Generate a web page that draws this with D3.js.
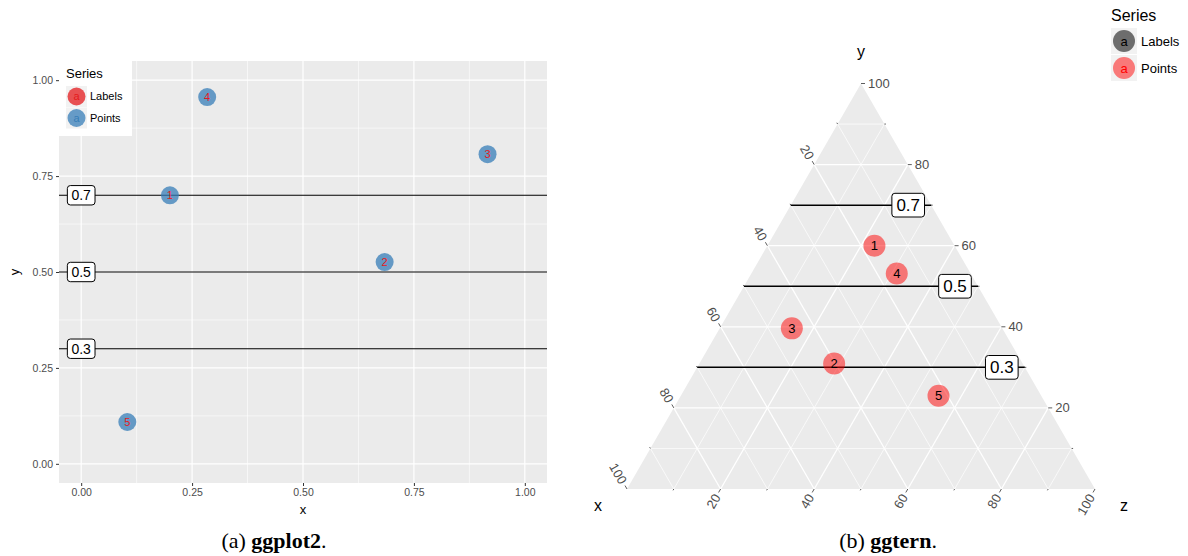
<!DOCTYPE html>
<html>
<head>
<meta charset="utf-8">
<script src="https://cdn.jsdelivr.net/npm/d3@7"></script>
<style>
  body { margin: 0; background: #fff; }
  text { font-family: "Liberation Sans", Arial, sans-serif; }
  .cap { font-family: "Liberation Serif", "DejaVu Serif", serif; }
</style>
</head>
<body>
<div id="chart"></div>
<script>
// data (same five observations in both panels)
var ids = ["1", "2", "3", "4", "5"];
var xs = [0.2, 0.684, 0.916, 0.284, 0.104];
var ys = [0.7, 0.526, 0.807, 0.956, 0.109];
var zs = [0.267, 0.489, 0.314, 0.559, 0.261];
var hlines = [0.7, 0.5, 0.3];
var cartTicks = [0, 0.25, 0.5, 0.75, 1];
var cartMinor = [0.125, 0.375, 0.625, 0.875];
var ternMajor = [0.2, 0.4, 0.6, 0.8, 1];
var ternGrid = [0.1, 0.2, 0.3, 0.4, 0.5, 0.6, 0.7, 0.8, 0.9];
var ternMinor = [0.1, 0.3, 0.5, 0.7, 0.9];
var seriesNames = ["Labels", "Points"];

var W = 1188, H = 556;
var svg = d3.select("#chart").append("svg")
    .attr("width", W)
    .attr("height", H);

var data = ids.map(function (d, i) {
    var s = xs[i] + ys[i] + zs[i];
    return {id: d, x: xs[i], y: ys[i], z: zs[i], tx: xs[i] / s, ty: ys[i] / s, tz: zs[i] / s};
});

// ---------- panel (a): ggplot2 ----------
var x = d3.scaleLinear().domain([-0.05, 1.05]).range([59, 547]);
var y = d3.scaleLinear().domain([-0.05, 1.05]).range([483, 61]);

var pa = svg.append("g");
pa.append("rect")
    .attr("x", x.range()[0]).attr("y", y.range()[1])
    .attr("width", x.range()[1] - x.range()[0])
    .attr("height", y.range()[0] - y.range()[1])
    .attr("fill", "#ebebeb");

// grid
pa.selectAll(".vminor").data(cartMinor).enter().append("line")
    .attr("x1", d => x(d)).attr("x2", d => x(d))
    .attr("y1", y.range()[1]).attr("y2", y.range()[0])
    .attr("stroke", "#fff").attr("stroke-width", 0.6);
pa.selectAll(".hminor").data(cartMinor).enter().append("line")
    .attr("y1", d => y(d)).attr("y2", d => y(d))
    .attr("x1", x.range()[0]).attr("x2", x.range()[1])
    .attr("stroke", "#fff").attr("stroke-width", 0.6);
pa.selectAll(".vmajor").data(cartTicks).enter().append("line")
    .attr("x1", d => x(d)).attr("x2", d => x(d))
    .attr("y1", y.range()[1]).attr("y2", y.range()[0])
    .attr("stroke", "#fff").attr("stroke-width", 1.2);
pa.selectAll(".hmajor").data(cartTicks).enter().append("line")
    .attr("y1", d => y(d)).attr("y2", d => y(d))
    .attr("x1", x.range()[0]).attr("x2", x.range()[1])
    .attr("stroke", "#fff").attr("stroke-width", 1.2);

// axes
var xAxis = d3.axisBottom(x).tickValues(cartTicks).tickFormat(d3.format(".2f")).tickSize(3).tickPadding(3);
var yAxis = d3.axisLeft(y).tickValues(cartTicks).tickFormat(d3.format(".2f")).tickSize(3).tickPadding(3);
pa.append("g").attr("transform", "translate(0," + y.range()[0] + ")").call(xAxis);
pa.append("g").attr("transform", "translate(" + x.range()[0] + ",0)").call(yAxis);
pa.selectAll(".domain").remove();
pa.selectAll(".tick line").attr("stroke", "#333");
pa.selectAll(".tick text").attr("fill", "#4d4d4d").style("font-size", "10.5px")
    .style("font-family", "Liberation Sans, Arial, sans-serif");

pa.append("text").attr("x", (x.range()[0] + x.range()[1]) / 2).attr("y", 514)
    .attr("text-anchor", "middle").style("font-size", "13px").text("x");
pa.append("text").attr("transform", "translate(19,272) rotate(-90)")
    .attr("text-anchor", "middle").style("font-size", "13px").text("y");

// horizontal lines
pa.selectAll(".hl").data(hlines).enter().append("line")
    .attr("x1", x.range()[0]).attr("x2", x.range()[1])
    .attr("y1", d => y(d)).attr("y2", d => y(d))
    .attr("stroke", "#000").attr("stroke-width", 1.1);

function boxLabel(g, cx, cy, txt, fs, padX, padY) {
    var grp = g.append("g");
    var t = grp.append("text").attr("x", cx).attr("y", cy).attr("dy", "0.35em")
        .attr("text-anchor", "middle").style("font-size", fs + "px").text(txt);
    var b = t.node().getBBox();
    grp.insert("rect", "text")
        .attr("x", cx - b.width / 2 - padX).attr("y", cy - fs * 0.55 - padY)
        .attr("width", b.width + 2 * padX).attr("height", fs * 1.1 + 2 * padY)
        .attr("rx", 3).attr("fill", "#fff").attr("stroke", "#000").attr("stroke-width", 1);
    return grp;
}
hlines.forEach(function (v) { boxLabel(pa, x(0), y(v), String(v), 14, 4, 2); });

// points
pa.selectAll(".pt").data(data).enter().append("circle")
    .attr("cx", d => x(d.x)).attr("cy", d => y(d.y)).attr("r", 9)
    .attr("fill", "#377eb8").attr("fill-opacity", 0.75);
pa.selectAll(".lb").data(data).enter().append("text")
    .attr("x", d => x(d.x)).attr("y", d => y(d.y)).attr("dy", "0.36em")
    .attr("text-anchor", "middle").attr("fill", "#e41a1c").style("font-size", "11px")
    .text(d => d.id);

// legend (a)
var la = pa.append("g");
la.append("rect").attr("x", 59).attr("y", 61).attr("width", 73).attr("height", 75).attr("fill", "#fff");
la.append("text").attr("x", 66).attr("y", 78).style("font-size", "13px").text("Series");
var keyA = [["#e41a1c", "#e41a1c"], ["#377eb8", "#377eb8"]];
seriesNames.forEach(function (s, i) {
    var ky = 86 + i * 21.5;
    la.append("rect").attr("x", 66).attr("y", ky).attr("width", 21).attr("height", 21).attr("fill", "#f2f2f2");
    la.append("circle").attr("cx", 76.5).attr("cy", ky + 10.5).attr("r", 9)
        .attr("fill", keyA[i][0]).attr("fill-opacity", 0.75);
    la.append("text").attr("x", 76.5).attr("y", ky + 10.5).attr("dy", "0.35em")
        .attr("text-anchor", "middle").attr("fill", keyA[i][1]).style("font-size", "11px").text("a");
    la.append("text").attr("x", 90).attr("y", ky + 10.5).attr("dy", "0.35em")
        .style("font-size", "11px").text(s);
});

// ---------- panel (b): ggtern ----------
var ty = d3.scaleLinear().domain([0, 1]).range([489, 83.5]);
var tx = d3.scaleLinear().domain([0, 1]).range([627, 1095]);
function proj(a, b, c) { return [tx(c + b / 2), ty(b)]; } // a=x, b=y, c=z

var pb = svg.append("g");
var tri = [proj(1, 0, 0), proj(0, 1, 0), proj(0, 0, 1)];
pb.append("path").attr("d", "M" + tri.join("L") + "Z").attr("fill", "#ebebeb");

var gridLines = [];
ternGrid.forEach(function (v) {
    var major = Math.abs(v * 10 % 2) < 1e-6 || Math.abs(v * 10 % 2 - 2) < 1e-6;
    gridLines.push({a: proj(1 - v, v, 0), b: proj(0, v, 1 - v), major: major});
    gridLines.push({a: proj(v, 1 - v, 0), b: proj(v, 0, 1 - v), major: major});
    gridLines.push({a: proj(1 - v, 0, v), b: proj(0, 1 - v, v), major: major});
});
pb.selectAll(".tg").data(gridLines).enter().append("line")
    .attr("x1", d => d.a[0]).attr("y1", d => d.a[1])
    .attr("x2", d => d.b[0]).attr("y2", d => d.b[1])
    .attr("stroke", "#fff").attr("stroke-width", d => d.major ? 1.3 : 0.7);

// ticks and labels
var fmt = d3.format("d");
function ternTick(p, dir, len) {
    pb.append("line").attr("x1", p[0]).attr("y1", p[1])
        .attr("x2", p[0] + dir[0] * len).attr("y2", p[1] + dir[1] * len)
        .attr("stroke", "#333").attr("stroke-width", 0.8);
}
var dirY = [1, 0], dirX = [-0.5, -0.866], dirZ = [-0.5, 0.866];
ternMinor.forEach(function (v) {
    ternTick(proj(0, v, 1 - v), dirY, 1.5);
    ternTick(proj(v, 1 - v, 0), dirX, 1.5);
    ternTick(proj(1 - v, 0, v), dirZ, 1.5);
});
ternMajor.forEach(function (v) {
    var p = proj(0, v, 1 - v);
    ternTick(p, dirY, 4);
    pb.append("text").attr("x", p[0] + 7).attr("y", p[1]).attr("dy", "0.35em")
        .attr("fill", "#4d4d4d").style("font-size", "13px").text(fmt(v * 100));
    var q = proj(v, 1 - v, 0);
    ternTick(q, dirX, 4);
    pb.append("text")
        .attr("transform", "translate(" + (q[0] + dirX[0] * 7) + "," + (q[1] + dirX[1] * 7) + ") rotate(60)")
        .attr("dy", "0.35em").attr("text-anchor", "end")
        .attr("fill", "#4d4d4d").style("font-size", "13px").text(fmt(v * 100));
    var r = proj(1 - v, 0, v);
    ternTick(r, dirZ, 4);
    pb.append("text")
        .attr("transform", "translate(" + (r[0] + dirZ[0] * 7) + "," + (r[1] + dirZ[1] * 7) + ") rotate(-60)")
        .attr("dy", "0.35em").attr("text-anchor", "end")
        .attr("fill", "#4d4d4d").style("font-size", "13px").text(fmt(v * 100));
});

pb.append("text").attr("x", tri[1][0]).attr("y", 57).attr("text-anchor", "middle")
    .style("font-size", "16px").text("y");
pb.append("text").attr("x", 598).attr("y", 511).attr("text-anchor", "middle")
    .style("font-size", "16px").text("x");
pb.append("text").attr("x", 1124).attr("y", 511).attr("text-anchor", "middle")
    .style("font-size", "16px").text("z");

// horizontal lines at constant y
pb.selectAll(".thl").data(hlines).enter().append("line")
    .attr("x1", d => proj(1 - d, d, 0)[0]).attr("x2", d => proj(0, d, 1 - d)[0])
    .attr("y1", d => ty(d)).attr("y2", d => ty(d))
    .attr("stroke", "#000").attr("stroke-width", 1.5);
hlines.forEach(function (v) {
    var e = proj(0, v, 1 - v);
    boxLabel(pb, e[0] - 23, e[1], String(v), 17, 4.5, 2.5);
});

// points
pb.selectAll(".tp").data(data).enter().append("circle")
    .attr("cx", d => proj(d.tx, d.ty, d.tz)[0]).attr("cy", d => proj(d.tx, d.ty, d.tz)[1])
    .attr("r", 11).attr("fill", "#ff0000").attr("fill-opacity", 0.5);
pb.selectAll(".tl").data(data).enter().append("text")
    .attr("x", d => proj(d.tx, d.ty, d.tz)[0]).attr("y", d => proj(d.tx, d.ty, d.tz)[1])
    .attr("dy", "0.36em").attr("text-anchor", "middle").style("font-size", "13px")
    .text(d => d.id);

// legend (b)
var lb = svg.append("g");
lb.append("text").attr("x", 1111).attr("y", 21).style("font-size", "16px").text("Series");
var keyB = [["#000", 0.55, "#000"], ["#ff0000", 0.5, "#ff0000"]];
seriesNames.forEach(function (s, i) {
    var ky = 28 + i * 27;
    lb.append("rect").attr("x", 1111).attr("y", ky).attr("width", 26).attr("height", 26).attr("fill", "#f2f2f2");
    lb.append("circle").attr("cx", 1124).attr("cy", ky + 13).attr("r", 11)
        .attr("fill", keyB[i][0]).attr("fill-opacity", keyB[i][1]);
    lb.append("text").attr("x", 1124).attr("y", ky + 13).attr("dy", "0.35em")
        .attr("text-anchor", "middle").attr("fill", keyB[i][2]).style("font-size", "13px").text("a");
    lb.append("text").attr("x", 1141).attr("y", ky + 13).attr("dy", "0.35em")
        .style("font-size", "13px").text(s);
});

// captions
function caption(cx, letter, name) {
    var t = svg.append("text").attr("class", "cap").attr("x", cx).attr("y", 548)
        .attr("text-anchor", "middle").style("font-size", "22px");
    t.append("tspan").text("(" + letter + ") ");
    t.append("tspan").attr("font-weight", "bold").text(name);
    t.append("tspan").text(".");
}
caption(274, "a", "ggplot2");
caption(888, "b", "ggtern");
</script>
</body>
</html>
